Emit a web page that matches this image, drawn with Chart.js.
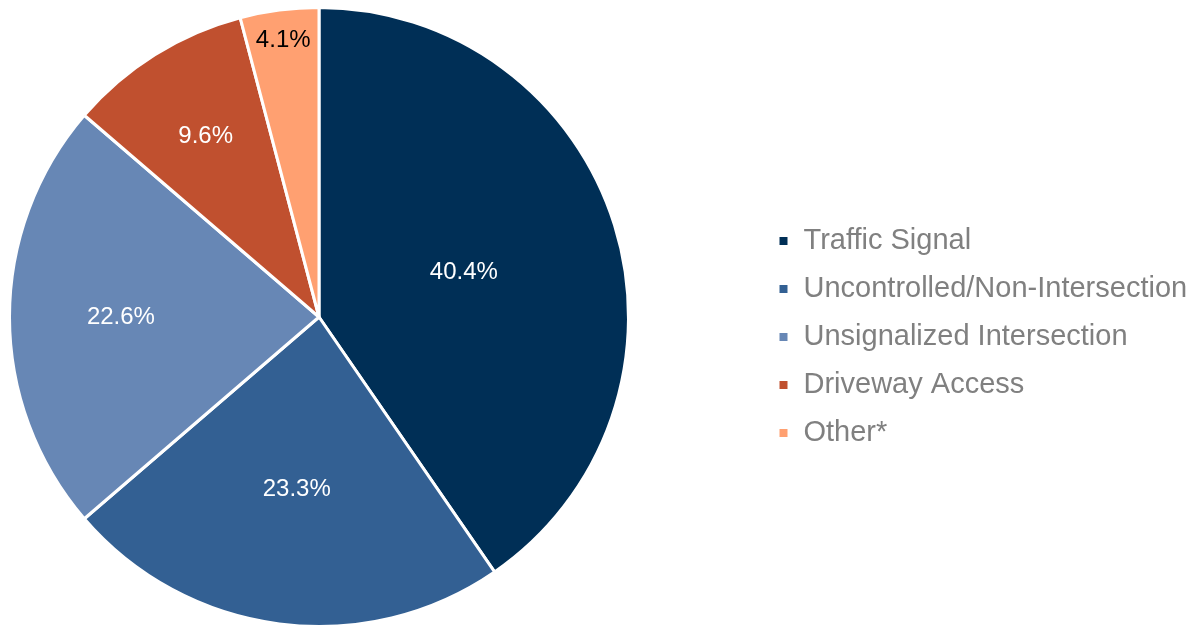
<!DOCTYPE html>
<html lang="en">
<head>
  <meta charset="UTF-8" />
  <title>Crash Location Type</title>
  <script src="https://cdn.jsdelivr.net/npm/chart.js"></script>
  <style>
    body { margin: 0; background: #fff; }
    #wrap { width: 1203px; height: 628px; }
  </style>
</head>
<body>
  <div id="wrap"><canvas id="pie" width="1203" height="628"></canvas></div>
  <script>
    const categories = ['Traffic Signal', 'Uncontrolled/Non-Intersection', 'Unsignalized Intersection', 'Driveway Access', 'Other*'];
    const shares = [40.4, 23.3, 22.6, 9.6, 4.1];
    const sliceColors = ['#002f56', '#336093', '#6787b5', '#c0502f', '#ffa071'];
    const labelColors = ['#ffffff', '#ffffff', '#ffffff', '#ffffff', '#000000'];
    // how far out (fraction of radius) each label sits, like excel's best fit
    const labelDist = [0.49, 0.56, 0.64, 0.69, 0.9];

    const PIE_WIDTH = 638;

    // push the legend over to the right and keep the pie on the left
    const legendPlace = {
      id: 'legendPlace',
      beforeInit(chart) {
        const lg = chart.legend;
        const fit = lg.fit;
        lg.fit = function () {
          fit.call(this);
          this.width = chart.width - PIE_WIDTH;
        };
      },
      afterLayout(chart) {
        const lg = chart.legend;
        const pad = lg.options.labels.padding;
        lg.left = 778 - pad;
        lg.right = chart.width;
        lg.top += 20;
        lg.bottom += 20;
        lg.adjustHitBoxes && lg.adjustHitBoxes();
      }
    };

    const sliceLabels = {
      id: 'sliceLabels',
      afterDatasetsDraw(chart) {
        const ctx = chart.ctx;
        const arcs = chart.getDatasetMeta(0).data;
        ctx.save();
        ctx.font = '24px "Liberation Sans", Arial, sans-serif';
        ctx.textAlign = 'center';
        ctx.textBaseline = 'middle';
        arcs.forEach((arc, i) => {
          const mid = (arc.startAngle + arc.endAngle) / 2;
          const r = arc.outerRadius * labelDist[i];
          ctx.fillStyle = labelColors[i];
          ctx.fillText(shares[i].toFixed(1) + '%', arc.x + Math.cos(mid) * r, arc.y + Math.sin(mid) * r);
        });
        ctx.restore();
      }
    };

    new Chart(document.getElementById('pie'), {
      type: 'pie',
      data: {
        labels: categories,
        datasets: [{
          data: shares,
          backgroundColor: sliceColors,
          borderColor: '#ffffff',
          borderWidth: 3
        }]
      },
      options: {
        responsive: false,
        animation: false,
        layout: { padding: { top: 6 } },
        plugins: {
          tooltip: { enabled: false },
          legend: {
            position: 'right',
            labels: {
              boxWidth: 11,
              boxHeight: 11,
              padding: 19,
              color: '#808080',
              font: { family: '"Liberation Sans", Arial, sans-serif', size: 29 }
            }
          }
        }
      },
      plugins: [legendPlace, sliceLabels]
    });
  </script>
</body>
</html>
